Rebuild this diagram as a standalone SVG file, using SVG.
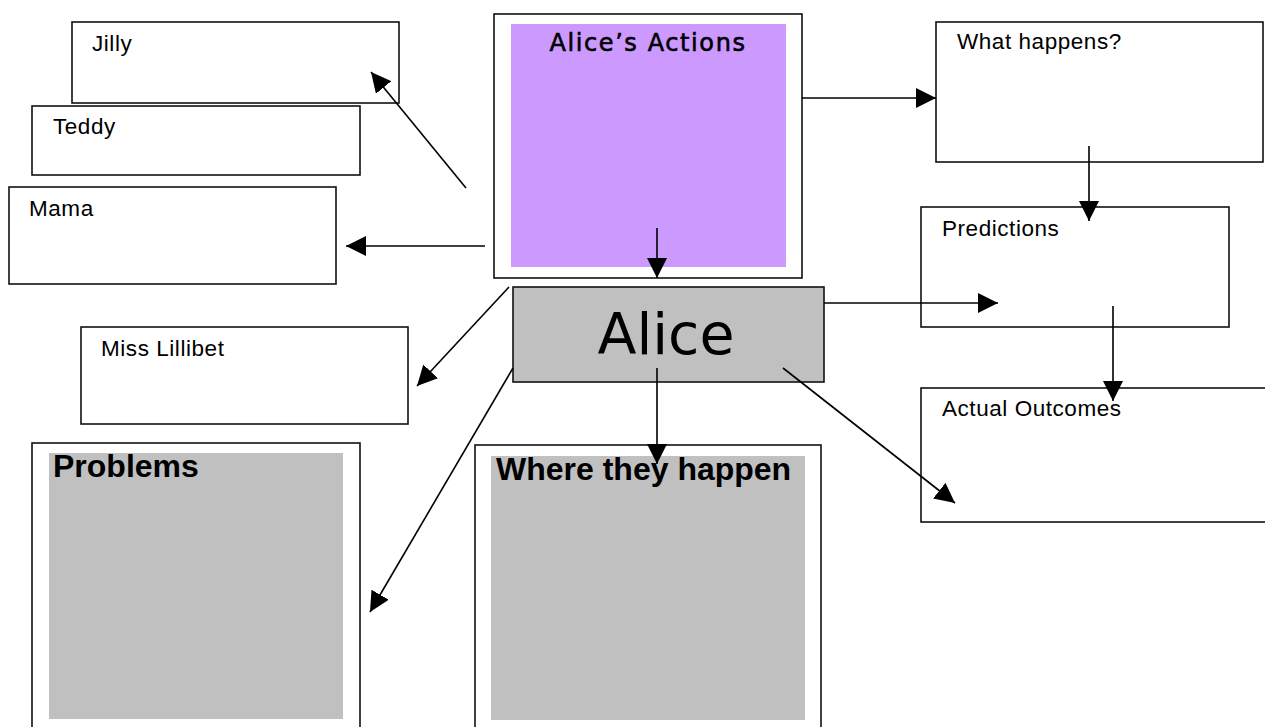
<svg xmlns="http://www.w3.org/2000/svg" width="1265" height="727" viewBox="0 0 1265 727">
<style>
.box{fill:#fff;stroke:#111;stroke-width:1.6}
.lbl{font-family:"Liberation Sans",Arial,sans-serif;font-size:22.5px;letter-spacing:0.55px;fill:#000}
.ttl{font-family:"Liberation Sans",Arial,sans-serif;font-size:32px;font-weight:bold;fill:#000}
.gray{fill:#c0c0c0}
.conn line{stroke:#000;stroke-width:1.6;marker-end:url(#ah)}
</style>
<defs>
<marker id="ah" viewBox="0 0 20 20" markerWidth="20" markerHeight="20" refX="20" refY="10" orient="auto" markerUnits="userSpaceOnUse">
<path d="M0,0 L20,10 L0,20 z" fill="#000"/>
</marker>
</defs>
<rect width="1265" height="727" fill="#fff"/>
<g id="jilly"><rect class="box" x="72" y="22" width="327" height="81"/><text class="lbl" x="92" y="51">Jilly</text></g>
<g id="teddy"><rect class="box" x="32" y="106" width="328" height="69"/><text class="lbl" x="53" y="134">Teddy</text></g>
<g id="mama"><rect class="box" x="9" y="187" width="327" height="97"/><text class="lbl" x="29" y="216">Mama</text></g>
<g id="actions"><rect class="box" x="494" y="14" width="308" height="264" stroke-width="2"/><rect x="511" y="24" width="275" height="243" fill="#cc99ff"/><text x="648" y="51" text-anchor="middle" font-family="DejaVu Sans,Verdana,sans-serif" font-size="24" letter-spacing="1.6" stroke="#000" stroke-width="0.6">Alice’s Actions</text></g>
<g id="alice"><rect x="513" y="287" width="311" height="95" fill="#c0c0c0" stroke="#111" stroke-width="1.6"/><text x="666" y="354" text-anchor="middle" font-family="DejaVu Sans,Verdana,sans-serif" font-size="57">Alice</text></g>
<g id="lillibet"><rect class="box" x="81" y="327" width="327" height="97"/><text class="lbl" x="101" y="356">Miss Lillibet</text></g>
<g id="problems"><rect class="box" x="32" y="443" width="328" height="300"/><rect class="gray" x="49" y="453" width="294" height="266"/><text class="ttl" x="53" y="477">Problems</text></g>
<g id="where"><rect class="box" x="475" y="445" width="346" height="300"/><rect class="gray" x="491" y="456" width="314" height="264"/><text class="ttl" x="496" y="480">Where they happen</text></g>
<g id="what"><rect class="box" x="936" y="22" width="327" height="140"/><text class="lbl" x="957" y="49">What happens?</text></g>
<g id="predictions"><rect class="box" x="921" y="207" width="308" height="120"/><text class="lbl" x="942" y="236">Predictions</text></g>
<g id="outcomes"><rect class="box" x="921" y="388" width="360" height="134"/><text class="lbl" x="942" y="416">Actual Outcomes</text></g>
<g id="connectors" class="conn">
<line x1="466" y1="188" x2="371" y2="72"/>
<line x1="485" y1="246" x2="346" y2="246"/>
<line x1="509" y1="287" x2="417" y2="386"/>
<line x1="513" y1="368" x2="370" y2="612"/>
<line x1="657" y1="228" x2="657" y2="278"/>
<line x1="657" y1="368" x2="657" y2="464"/>
<line x1="802" y1="98" x2="936" y2="98"/>
<line x1="1089" y1="146" x2="1089" y2="221"/>
<line x1="824" y1="303" x2="998" y2="303"/>
<line x1="1113" y1="306" x2="1113" y2="401"/>
<line x1="783" y1="368" x2="955" y2="503"/>
</g>
</svg>
